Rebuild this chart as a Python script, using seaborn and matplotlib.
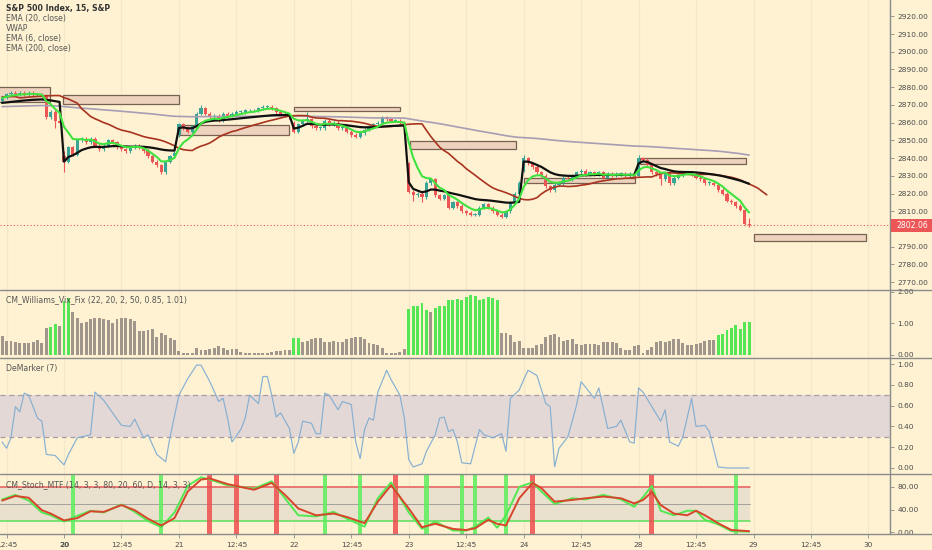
import numpy as np
import pandas as pd
import matplotlib
matplotlib.use("Agg")
import matplotlib.pyplot as plt
import seaborn as sns
from matplotlib.patches import Rectangle
from matplotlib.lines import Line2D

# ------------------------------------------------------------------ data
# bar index: 0 = first 15-min bar of the 20th, 26 bars per session
bar_index = list(range(-14, 156))

close_d19 = [2874, 2876, 2877, 2876, 2877, 2876, 2877, 2876, 2876, 2875, 2863, 2866, 2861, 2860]
close_d20 = [2838, 2846, 2842, 2850, 2851, 2849, 2851, 2847, 2845, 2847, 2850, 2849, 2846,
             2845, 2844, 2846, 2847, 2846, 2844, 2841, 2838, 2836, 2832, 2838, 2841, 2843]
close_d21 = [2859, 2857, 2855, 2858, 2865, 2868, 2865, 2863, 2864, 2861, 2865, 2864, 2865,
             2866, 2866, 2867, 2867, 2867, 2868, 2869, 2869, 2868, 2866, 2865, 2864, 2863]
close_d22 = [2855, 2859, 2861, 2862, 2858, 2857, 2857, 2861, 2859, 2860, 2857, 2857, 2855,
             2853, 2852, 2854, 2856, 2858, 2859, 2860, 2863, 2862, 2861, 2861, 2860, 2859]
close_d23 = [2821, 2819, 2820, 2818, 2826, 2828, 2819, 2817, 2819, 2812, 2815, 2813, 2810,
             2809, 2808, 2808, 2812, 2814, 2812, 2810, 2808, 2807, 2810, 2815, 2820, 2826]
close_d24 = [2840, 2837, 2835, 2832, 2830, 2824, 2822, 2825, 2826, 2829, 2828, 2830, 2832,
             2833, 2831, 2832, 2831, 2832, 2829, 2831, 2830, 2831, 2831, 2830, 2831, 2829]
close_d28 = [2840, 2839, 2836, 2832, 2831, 2828, 2832, 2826, 2829, 2830, 2832, 2832, 2831,
             2829, 2828, 2826, 2826, 2825, 2822, 2820, 2816, 2815, 2813, 2811, 2803, 2802.06]
session_open = {-14: 2872, 0: 2841, 26: 2853, 52: 2860, 78: 2837, 104: 2833, 130: 2830}
high_marks = {0: 2844, 31: 2870, 55: 2866, 104: 2842, 130: 2842, 155: 2806}
low_marks = {0: 2832, -2: 2857, 79: 2816, 81: 2815, 135: 2825}
last_price = 2802.06

ema200_prior = 2869.0          # EMA(200) value just before the first visible bar
ema20_offset = 4               # the EMA(20) study is drawn shifted forward
ema20_lead = [2874.6, 2874.6, 2874.7, 2874.7]   # shifted EMA(20) values before first bar
vwap_prior_mean = 2871.0       # session VWAP state on the 19th before first bar
vwap_prior_bars = 13

# supply / demand boxes
box_left = [-15.0, -0.2, 26.2, 52.0, 78.3, 104.0, 130.3, 156.0]
box_right = [-3.2, 26.0, 50.9, 76.0, 102.3, 129.2, 154.3, 181.4]
box_low = [2871.5, 2870.4, 2853.0, 2866.6, 2845.2, 2826.0, 2836.7, 2793.5]
box_high = [2880.0, 2875.6, 2858.7, 2869.0, 2849.9, 2829.0, 2840.3, 2797.2]

# CM Williams Vix Fix
vix_d19 = [0.61, 0.45, 0.44, 0.40, 0.39, 0.37, 0.38, 0.42, 0.46, 0.39, 0.86, 0.89, 0.97, 0.92]
vix_d20 = [1.70, 1.80, 1.37, 1.16, 1.02, 1.05, 1.14, 1.16, 1.16, 1.13, 1.11, 1.02, 1.13,
           1.16, 1.16, 1.13, 1.07, 0.77, 0.77, 0.79, 0.81, 0.58, 0.68, 0.63, 0.53, 0.47]
vix_d21 = [0.14, 0.07, 0.07, 0.07, 0.23, 0.16, 0.16, 0.18, 0.21, 0.28, 0.23, 0.16, 0.18,
           0.18, 0.11, 0.07, 0.07, 0.05, 0.05, 0.05, 0.05, 0.11, 0.14, 0.14, 0.16, 0.16]
vix_d22 = [0.53, 0.53, 0.42, 0.45, 0.51, 0.53, 0.55, 0.42, 0.42, 0.44, 0.42, 0.42, 0.49,
           0.53, 0.58, 0.58, 0.49, 0.37, 0.35, 0.32, 0.21, 0.07, 0.07, 0.07, 0.11, 0.19]
vix_d23 = [1.45, 1.56, 1.53, 1.63, 1.42, 1.35, 1.49, 1.53, 1.53, 1.72, 1.74, 1.77, 1.74,
           1.84, 1.89, 1.87, 1.74, 1.77, 1.82, 1.79, 1.74, 0.68, 0.68, 0.63, 0.42, 0.44]
vix_d24 = [0.23, 0.23, 0.23, 0.32, 0.35, 0.58, 0.63, 0.65, 0.56, 0.45, 0.47, 0.51, 0.35,
           0.32, 0.34, 0.34, 0.34, 0.32, 0.42, 0.42, 0.40, 0.39, 0.23, 0.16, 0.16, 0.28]
vix_d28 = [0.32, 0.05, 0.16, 0.26, 0.40, 0.44, 0.40, 0.44, 0.49, 0.49, 0.37, 0.32, 0.32,
           0.35, 0.39, 0.44, 0.47, 0.47, 0.63, 0.65, 0.79, 0.86, 0.95, 0.82, 1.03, 1.05]
vix_green_bars = [-3, -2, 0, 1, 52, 53, 78, 79, 80, 81, 82, 84, 85, 86, 87, 88, 89, 90, 91,
                  92, 93, 94, 95, 96, 97, 98, 148, 149, 150, 151, 152, 153, 154, 155]

# DeMarker (7)
dem_t = [-14, -13, -12, -11, -10, -9, -8, -6, -5, -4, -2, 0, 1, 3, 6, 7, 9, 13, 15, 16, 18,
         19, 21, 23, 24, 26, 28, 30, 31, 33, 35, 36, 37, 38, 40, 41, 42, 44, 45, 46, 47, 48,
         49, 51, 52, 53, 54, 56, 57, 58, 59, 60, 62, 63, 65, 66, 67, 68, 69, 70, 71, 73, 74,
         76, 77, 78, 79, 81, 82, 84, 85, 86, 87, 88, 89, 90, 92, 94, 95, 97, 99, 100, 101,
         103, 104, 105, 107, 109, 110, 111, 112, 114, 116, 117, 120, 121, 123, 125, 126,
         128, 129, 130, 131, 133, 135, 136, 137, 139, 140, 142, 143, 145, 146, 148, 150,
         153, 155]
dem_v = [0.25, 0.19, 0.29, 0.59, 0.54, 0.72, 0.70, 0.48, 0.45, 0.13, 0.12, 0.03, 0.13, 0.29,
         0.32, 0.73, 0.65, 0.41, 0.40, 0.47, 0.29, 0.32, 0.13, 0.06, 0.30, 0.70, 0.86, 0.99,
         0.99, 0.83, 0.64, 0.67, 0.48, 0.25, 0.37, 0.48, 0.70, 0.62, 0.88, 0.88, 0.70, 0.49,
         0.53, 0.38, 0.14, 0.25, 0.45, 0.43, 0.33, 0.33, 0.72, 0.70, 0.56, 0.64, 0.61, 0.25,
         0.09, 0.37, 0.48, 0.46, 0.73, 0.94, 0.85, 0.70, 0.48, 0.08, 0.01, 0.04, 0.16, 0.32,
         0.48, 0.49, 0.35, 0.37, 0.25, 0.05, 0.04, 0.37, 0.32, 0.29, 0.33, 0.16, 0.67, 0.75,
         0.85, 0.94, 0.89, 0.62, 0.59, 0.01, 0.19, 0.30, 0.61, 0.83, 0.67, 0.77, 0.38, 0.40,
         0.46, 0.25, 0.24, 0.77, 0.73, 0.59, 0.45, 0.56, 0.25, 0.21, 0.30, 0.67, 0.40, 0.41,
         0.35, 0.01, 0.00, 0.00, 0.00]
dem_upper, dem_lower = 0.7, 0.3

# CM Stoch MTF
stoch_t = [-14, -11, -8, -5, -3, 0, 3, 6, 9, 13, 16, 19, 22, 25, 28, 31, 33, 37, 43, 47, 50,
           53, 57, 61, 64, 68, 71, 74, 78, 81, 84, 88, 91, 93, 96, 98, 100, 103, 106, 108,
           111, 115, 118, 122, 126, 129, 131, 133, 135, 138, 141, 143, 145, 148, 151, 155]
stoch_k = [58, 66, 56, 35, 30, 19, 29, 38, 35, 49, 36, 20, 9, 35, 82, 97, 93, 83, 77, 90, 60,
           30, 28, 36, 24, 10, 60, 88, 35, 6, 19, 3, 3, 10, 26, 8, 30, 80, 88, 72, 50, 60,
           58, 66, 58, 45, 62, 82, 38, 30, 38, 38, 22, 14, 2, 1]
stoch_d = [56, 64, 61, 39, 33, 21, 25, 37, 36, 48, 39, 24, 12, 25, 72, 93, 95, 85, 75, 87, 66,
           42, 30, 33, 27, 16, 54, 83, 42, 9, 15, 6, 4, 7, 22, 15, 12, 60, 87, 78, 54, 57,
           60, 63, 60, 51, 57, 71, 48, 33, 30, 38, 30, 16, 4, 2]
stoch_up_bars = [2, 22, 59, 67, 82, 90, 93, 100, 152]
stoch_dn_bars = [33, 39, 48, 75, 106, 133]
stoch_hi, stoch_mid, stoch_lo = 80, 50, 20

# axes ticks
price_ticks = [2770, 2780, 2790, 2800, 2810, 2820, 2830, 2840, 2850, 2860, 2870, 2880,
               2890, 2900, 2910, 2920]
vix_ticks = [0, 1, 2]
dem_ticks = [0.0, 0.2, 0.4, 0.6, 0.8, 1.0]
stoch_ticks = [0, 40, 80]
time_pos = [-13, 0, 13, 26, 39, 52, 65, 78, 91, 104, 117, 130, 143, 156, 169, 182]
time_lab = ["12:45", "20", "12:45", "21", "12:45", "22", "12:45", "23", "12:45", "24",
            "12:45", "28", "12:45", "29", "12:45", "30"]

# ------------------------------------------------------------------ style
sns.set_theme(style="white")
plt.rcParams['font.family'] = ['DejaVu Sans']
BG = '#FEF2D2'
GRID = '#F5E8CA'
TXT = '#4A4A4A'
SEP = '#8A8A8A'
UP, DN = '#3AA596', '#EC5656'

W, H = 932, 550
fig = plt.figure(figsize=(W / 100, H / 100), dpi=100, facecolor=BG)


def panel(y0, y1):
    ax = fig.add_axes([0, 1 - y1 / H, 890 / W, (y1 - y0) / H])
    ax.set_facecolor(BG)
    for s in ax.spines.values():
        s.set_visible(False)
    ax.set_xlim(-14.48, 186.88)
    ax.yaxis.tick_right()
    ax.tick_params(axis='y', which='both', right=True, left=False, length=3, width=0.6,
                   color=SEP, labelsize=5.3, labelcolor=TXT, pad=2.5, direction='out')
    ax.tick_params(axis='x', bottom=False, labelbottom=False)
    ax.grid(False)
    for p in time_pos:
        ax.axvline(p, color=GRID, lw=0.9, zorder=0.5)
    return ax


ax_m = panel(0, 290)
ax_v = panel(290, 358)
ax_d = panel(358, 474)
ax_s = panel(474, 534)

# ------------------------------------------------------------------ price panel
closes = close_d19 + close_d20 + close_d21 + close_d22 + close_d23 + close_d24 + close_d28
opens = []
for i, t in enumerate(bar_index):
    opens.append(session_open[t] if t in session_open else closes[i - 1])
df = pd.DataFrame({'t': bar_index, 'o': opens, 'c': closes})
df['h'] = [high_marks.get(t, max(o, c) + 0.9) for t, o, c in zip(df.t, df.o, df.c)]
df['l'] = [low_marks.get(t, min(o, c) - 0.9) for t, o, c in zip(df.t, df.o, df.c)]
df['day'] = df['t'] // 26

up = df.c >= df.o
cols = np.where(up, UP, DN)
ax_m.vlines(df.t, df.l, df.h, colors=cols, lw=0.8, zorder=2)
ax_m.bar(df.t, np.maximum((df.c - df.o).abs(), 0.4), bottom=np.minimum(df.o, df.c),
         width=0.72, color=cols, linewidth=0, zorder=2.1)

for x0, x1, lo, hi in zip(box_left, box_right, box_low, box_high):
    ax_m.add_patch(Rectangle((x0, lo), x1 - x0, hi - lo, facecolor='#EDD3BD',
                             edgecolor='#776152', lw=0.9, zorder=1.5))

# indicators computed from the closes
ema6 = df.c.ewm(span=6, adjust=False).mean()
ema20 = df.c.ewm(span=20, adjust=False).mean()
ema200 = pd.Series([ema200_prior] + list(df.c)).ewm(span=200, adjust=False).mean()[1:]
df['tp'] = (df.h + df.l + df.c) / 3
cum = df.groupby('day')['tp'].cumsum()
cnt = df.groupby('day').cumcount() + 1
first = df['day'] == df['day'].min()
vwap = (cum + np.where(first, vwap_prior_mean * vwap_prior_bars, 0)) / \
       (cnt + np.where(first, vwap_prior_bars, 0))

ema20_t = list(range(-14, -14 + len(ema20_lead))) + list(df.t + ema20_offset)
ema20_v = ema20_lead + list(ema20)

sns.lineplot(x=list(df.t), y=list(ema200), ax=ax_m, color='#A79DB5', lw=1.2,
             sort=False, estimator=None, legend=False, zorder=3)
sns.lineplot(x=ema20_t, y=ema20_v, ax=ax_m, color='#A8331F', lw=1.2,
             sort=False, estimator=None, legend=False, zorder=3.1)
sns.lineplot(x=list(df.t), y=list(vwap), ax=ax_m, color='#111111', lw=1.6,
             sort=False, estimator=None, legend=False, zorder=3.2)
sns.lineplot(x=list(df.t), y=list(ema6), ax=ax_m, color='#3FE23F', lw=1.5,
             sort=False, estimator=None, legend=False, zorder=3.3)

ax_m.axhline(last_price, color='#EC5656', lw=0.8, ls=(0, (1, 2)), zorder=2.5)
ax_m.set_ylim(2765.6, 2929.2)
ax_m.set_yticks(price_ticks)
ax_m.set_yticklabels([f"{v:.2f}" for v in price_ticks])

# ------------------------------------------------------------------ vix fix
vix = vix_d19 + vix_d20 + vix_d21 + vix_d22 + vix_d23 + vix_d24 + vix_d28
vcols = ['#55E655' if t in vix_green_bars else '#A0968C' for t in bar_index]
ax_v.bar(bar_index, vix, width=0.66, color=vcols, linewidth=0, zorder=2)
ax_v.set_ylim(-0.095, 2.05)
ax_v.set_yticks(vix_ticks)
ax_v.set_yticklabels([f"{v:.2f}" for v in vix_ticks])

# ------------------------------------------------------------------ DeMarker
ax_d.axhspan(dem_lower, dem_upper, color='#E3D8D5', zorder=0.8, lw=0)
for lv in (dem_lower, dem_upper):
    ax_d.axhline(lv, color='#A99BA6', lw=0.9, ls=(0, (4, 3)), zorder=1)
sns.lineplot(x=dem_t, y=dem_v, ax=ax_d, color='#86AFD2', lw=0.85,
             sort=False, estimator=None, legend=False, zorder=3)
ax_d.set_ylim(-0.058, 1.058)
ax_d.set_yticks(dem_ticks)
ax_d.set_yticklabels([f"{v:.2f}" for v in dem_ticks])

# ------------------------------------------------------------------ Stoch MTF
x_end = bar_index[-1] + 0.3
x_beg = -14.48
ax_s.fill_between([x_beg, x_end], stoch_lo, stoch_hi, color='#E9E1CD', lw=0, zorder=0.8)
ax_s.plot([x_beg, x_end], [stoch_hi] * 2, color='#E65A5A', lw=1.1, zorder=1.5)
ax_s.plot([x_beg, x_end], [stoch_lo] * 2, color='#5BE05B', lw=1.1, zorder=1.5)
ax_s.plot([x_beg, x_end], [stoch_mid] * 2, color='#A3A09A', lw=0.7, zorder=1.5)
for b in stoch_up_bars:
    ax_s.axvspan(b - 0.5, b + 0.5, color='#5CEE5C', alpha=0.85, lw=0, zorder=1.8)
for b in stoch_dn_bars:
    ax_s.axvspan(b - 0.55, b + 0.55, color='#EE4E4E', alpha=0.85, lw=0, zorder=1.8)
sns.lineplot(x=stoch_t, y=stoch_k, ax=ax_s, color='#52E852', lw=1.4,
             sort=False, estimator=None, legend=False, zorder=3)
sns.lineplot(x=stoch_t, y=stoch_d, ax=ax_s, color='#D8442C', lw=1.4,
             sort=False, estimator=None, legend=False, zorder=3.1)
ax_s.set_ylim(-3.0, 102.8)
ax_s.set_yticks(stoch_ticks)
ax_s.set_yticklabels([f"{v:.2f}" for v in stoch_ticks])
ax_s.set_xticks(time_pos)
ax_s.set_xticklabels(time_lab)
ax_s.tick_params(axis='x', bottom=True, labelbottom=True, length=3, width=0.6, color=SEP,
                 labelsize=5.3, labelcolor=TXT, pad=2.5, direction='out')
for lab in ax_s.get_xticklabels():
    if lab.get_text() == "20":
        lab.set_fontweight('bold')
for ax in (ax_m, ax_v, ax_d, ax_s):
    ax.set_xlim(-14.48, 186.88)
    ax.set_xlabel('')
    ax.set_ylabel('')

# ------------------------------------------------------------------ frame lines
for yy in (290, 358, 474, 534):
    fig.add_artist(Line2D([0, 1], [1 - yy / H] * 2, transform=fig.transFigure,
                          color=SEP, lw=1.0, zorder=20))
fig.add_artist(Line2D([890 / W] * 2, [1 - 534 / H, 1], transform=fig.transFigure,
                      color=SEP, lw=1.0, zorder=20))

# last price label on the price scale
ypix = ax_m.transData.transform((0, last_price))[1]
fig.add_artist(Rectangle((891 / W, (ypix - 6.5) / H), 41 / W, 13 / H,
                         transform=fig.transFigure, facecolor='#EC5656', lw=0, zorder=30))
fig.text(896 / W, ypix / H, f"{last_price:.2f}", color='white', fontsize=5.6,
         va='center', ha='left', zorder=31)


# ------------------------------------------------------------------ texts
def ptext(x, y, s, **kw):
    fig.text(x / W, 1 - y / H, s, va='center', ha='left', **kw)


ptext(6, 9, "S&P 500 Index, 15, S&P", fontsize=5.6, color='#333333', fontweight='bold')
ptext(6, 19, "EMA (20, close)", fontsize=5.6, color='#555555')
ptext(6, 28.7, "VWAP", fontsize=5.6, color='#555555')
ptext(6, 38.3, "EMA (6, close)", fontsize=5.6, color='#555555')
ptext(6, 48, "EMA (200, close)", fontsize=5.6, color='#555555')
ptext(6, 300, "CM_Williams_Vix_Fix (22, 20, 2, 50, 0.85, 1.01)", fontsize=5.6, color='#555555')
ptext(6, 368, "DeMarker (7)", fontsize=5.6, color='#555555')
ptext(6, 485, "CM_Stoch_MTF (14, 3, 3, 80, 20, 60, D, 14, 3, 3)", fontsize=5.6, color='#555555')

fig.savefig("out.png", dpi=100, facecolor=BG)
